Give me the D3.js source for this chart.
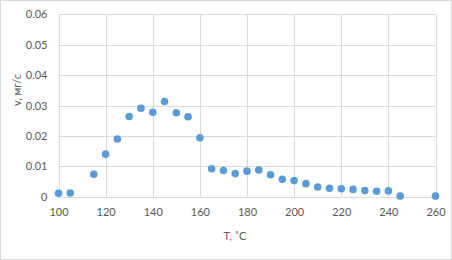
<!DOCTYPE html>
<html><head><meta charset="utf-8">
<script src="https://cdn.jsdelivr.net/npm/d3@7"></script>
<style>body{margin:0;background:#fff}svg{display:block}text{font-family:Lato,"Open Sans",sans-serif;fill:#595959}</style>
</head><body><svg id="c" width="452" height="260"></svg>
<script>
const temps = [100,105,115,120,125,130,135,140,145,150,155,160,165,170,175,180,185,190,195,200,205,210,215,220,225,230,235,240,245,260];
const rates = [0.0011,0.0012,0.0074,0.0140,0.0190,0.0264,0.0291,0.0278,0.0313,0.0276,0.0263,0.0194,0.0092,0.0086,0.0076,0.0084,0.0088,0.0072,0.0057,0.0053,0.0043,0.0032,0.0028,0.0026,0.0024,0.0020,0.0018,0.0019,0.0002,0.0002];
const xTicks = [100,120,140,160,180,200,220,240,260];
const yTicks = [0,0.01,0.02,0.03,0.04,0.05,0.06];
const xTitle = "T, ˚C";
const yTitle = "v, мг/с";

const svg = d3.select("#c");
svg.append("rect").attr("x",0.5).attr("y",0.5).attr("width",451).attr("height",259)
  .attr("fill","#fff").attr("stroke","#d9d9d9");
const x = d3.scaleLinear().domain([100,260]).range([58.5,435.5]);
const y = d3.scaleLinear().domain([0,0.06]).range([196.7,14.3]);

const g = svg.append("g");
g.selectAll(".vg").data(xTicks).join("line")
  .attr("x1",d=>Math.round(x(d))+0.5).attr("x2",d=>Math.round(x(d))+0.5)
  .attr("y1",y(0.06)).attr("y2",y(0)).attr("stroke","#d9d9d9");
g.selectAll(".hg").data(yTicks).join("line")
  .attr("y1",d=>Math.round(y(d))+0.5).attr("y2",d=>Math.round(y(d))+0.5)
  .attr("x1",x(100)).attr("x2",x(260)).attr("stroke","#d9d9d9");

const xa = svg.append("g").attr("transform",`translate(0,${y(0)})`)
  .call(d3.axisBottom(x).tickValues(xTicks).tickSize(0).tickPadding(12).tickFormat(d3.format("d")));
xa.select(".domain").remove();
const ya = svg.append("g").attr("transform",`translate(${x(100)},0)`)
  .call(d3.axisLeft(y).tickValues(yTicks).tickSize(0).tickPadding(11).tickFormat(d=>d===0?"0":d3.format(".2f")(d)));
ya.select(".domain").remove();
svg.selectAll(".tick text").style("font-size","11px").style("fill","#595959").style("font-family","Lato");

svg.selectAll(".pt").data(temps.map((t,i)=>[t,rates[i]])).join("circle")
  .attr("cx",d=>x(d[0])).attr("cy",d=>y(d[1])).attr("r",3.8).attr("fill","#5b9bd5");

svg.append("text").attr("x",235).attr("y",240).attr("text-anchor","middle").style("font-size","11px").text(xTitle);
svg.append("text").attr("transform","translate(21,90) rotate(-90)").attr("text-anchor","middle").style("font-size","11px").text(yTitle);
</script></body></html>
